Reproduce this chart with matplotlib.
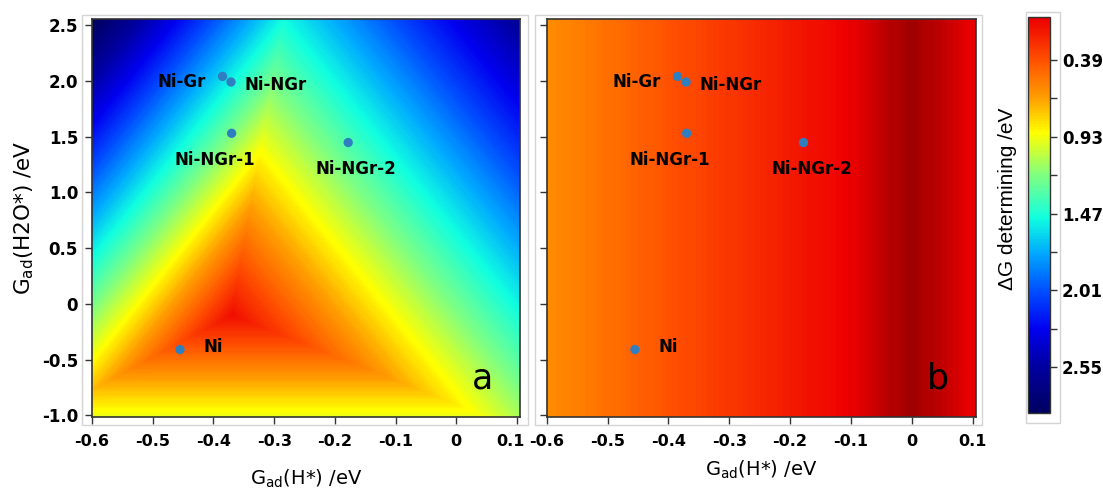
import numpy as np
import matplotlib
matplotlib.use('Agg')
import matplotlib.pyplot as plt
import matplotlib.tri as mtri
from matplotlib.colors import LinearSegmentedColormap, Normalize
from matplotlib.patches import Rectangle
from matplotlib.ticker import FixedLocator
from matplotlib.transforms import ScaledTranslation

plt.rcParams['font.family'] = 'DejaVu Sans'
plt.rcParams['mathtext.fontset'] = 'dejavusans'

# --- data ---
# panel a: dG determining at the corners of the piecewise-linear map
# (centre, top ridge end, top-left, top-right, left ridge end, bottom-left,
#  bottom ridge end, bottom-right)
node_x = [-0.37, -0.285, -0.60, 0.105, -0.60, -0.60, 0.051, 0.105]
node_y = [-0.10, 2.555, 2.555, 2.555, -0.766, -1.015, -1.015, -1.015]
node_dg = [0.15, 1.50, 2.89, 2.60, 0.73, 0.95, 0.95, 1.10]
node_tri = [[0, 4, 2], [0, 2, 1], [0, 1, 3], [0, 3, 7], [0, 7, 6],
            [0, 6, 5], [0, 5, 4]]

# panel b: dG depends on G(H*) only
b_x = [-0.60, 0.0, 0.105]
b_y = [-1.015, 2.555]
b_dg = [0.60, 0.0, 0.105]

# catalysts
names = ['Ni-Gr', 'Ni-NGr', 'Ni-NGr-1', 'Ni-NGr-2', 'Ni']
pt_x = [-0.385, -0.371, -0.370, -0.178, -0.455]
pt_y = [2.04, 1.99, 1.53, 1.447, -0.41]
label_pos = [(-0.452, 1.99), (-0.298, 1.96), (-0.397, 1.29),
             (-0.165, 1.21), (-0.40, -0.39)]

xticks = [-0.6, -0.5, -0.4, -0.3, -0.2, -0.1, 0, 0.1]
xtick_labels = ['-0.6', '-0.5', '-0.4', '-0.3', '-0.2', '-0.1', '0', '0.1']
yticks = [2.5, 2.0, 1.5, 1.0, 0.5, 0, -0.5, -1.0]
ytick_labels = ['2.5', '2.0', '1.5', '1.0', '0.5', '0', '-0.5', '-1.0']
cb_ticks = [0.39, 0.93, 1.47, 2.01, 2.55]
cb_minor = [0.66, 1.20, 1.74, 2.28]

# colour scale (value, colour)
cmap_vals = [0.0, 0.10, 0.39, 0.66, 0.90, 1.20, 1.50, 1.75, 2.01, 2.28, 2.55, 2.87]
cmap_cols = ['#a00000', '#ee0000', '#ff5000', '#ffa000', '#ffff00', '#80ff80',
             '#10ffe0', '#00a8ff', '#0050ff', '#0000f0', '#0000a0', '#000060']

vmax = cmap_vals[-1]
cmap = LinearSegmentedColormap.from_list(
    'dg', [(v / vmax, c) for v, c in zip(cmap_vals, cmap_cols)])
norm = Normalize(vmin=0, vmax=vmax)
levels = np.linspace(0, vmax, 300)

W, H = 1103, 493
fig = plt.figure(figsize=(W / 100, H / 100), dpi=100)
ax_a = fig.add_axes([92 / W, 1 - 417 / H, 428 / W, 398 / H])
ax_b = fig.add_axes([546.7 / W, 1 - 417 / H, 429 / W, 398 / H])
cax = fig.add_axes([1028 / W, 80 / H, 22 / W, 396 / H])

# light grey frames around each layer
for x0, y0, x1, y1 in [(82, 15, 528, 425), (535, 15, 982, 425), (1026, 12, 1060, 423)]:
    fig.patches.append(Rectangle((x0 / W, 1 - y1 / H), (x1 - x0) / W, (y1 - y0) / H,
                                 transform=fig.transFigure, fill=False,
                                 edgecolor='#d4d4d4', lw=1))

triang = mtri.Triangulation(node_x, node_y, node_tri)
ax_a.tricontourf(triang, node_dg, levels=levels, cmap=cmap, norm=norm, extend='both')

X, Y = np.meshgrid(b_x, b_y)
Z = np.tile(b_dg, (len(b_y), 1))
ax_b.contourf(X, Y, Z, levels=levels, cmap=cmap, norm=norm, extend='both')

for ax, letter in [(ax_a, 'a'), (ax_b, 'b')]:
    ax.scatter(pt_x, pt_y, s=45, color='#2f7ec0', edgecolors='none', zorder=3)
    for name, (lx, ly) in zip(names, label_pos):
        ax.text(lx, ly, name, ha='center', va='center', fontsize=12,
                fontweight='bold', zorder=4)
    ax.text(0.043, -0.67, letter, ha='center', va='center', fontsize=25)
    ax.set_xlim(-0.6, 0.105)
    ax.set_ylim(-1.015, 2.555)
    ax.set_xticks(xticks)
    ax.set_xticklabels(xtick_labels)
    ax.set_yticks(yticks)
    ax.tick_params(direction='out', length=5, width=1, labelsize=11.5,
                   color='#333333', pad=7)
    for lab in ax.get_xticklabels() + ax.get_yticklabels():
        lab.set_fontweight('bold')
    for sp in ax.spines.values():
        sp.set_color('#333333')
        sp.set_linewidth(1.2)

ax_a.set_yticklabels(ytick_labels)
ax_a.tick_params(axis='y', labelsize=12, pad=5)
for lab in ax_a.get_yticklabels():
    lab.set_fontweight('bold')
ax_b.set_yticklabels([])

# the last label of panel a sits a little left, clear of panel b's first one
last = ax_a.get_xticklabels()[-1]
last.set_transform(last.get_transform() + ScaledTranslation(-0.07, 0, fig.dpi_scale_trans))

ax_a.set_xlabel(r'G$_{\mathrm{ad}}$(H*) /eV', fontsize=14, labelpad=14)
ax_b.set_xlabel(r'G$_{\mathrm{ad}}$(H*) /eV', fontsize=14, labelpad=7)
ax_a.set_ylabel(r'G$_{\mathrm{ad}}$(H2O*) /eV', fontsize=15.5, labelpad=4)

sm = plt.cm.ScalarMappable(norm=norm, cmap=cmap)
cb = fig.colorbar(sm, cax=cax)
cb.set_ticks(cb_ticks)
cb.set_ticklabels(['%.2f' % t for t in cb_ticks])
cax.set_ylim(2.87, 0.09)
cax.yaxis.set_minor_locator(FixedLocator(cb_minor))
cax.tick_params(which='both', direction='out', length=5, width=1,
                labelsize=12, color='#333333')
for lab in cax.get_yticklabels():
    lab.set_fontweight('bold')
cb.outline.set_edgecolor('#333333')
cb.outline.set_linewidth(1.0)
cb.set_label('\u0394G determining /eV', fontsize=15, labelpad=8,
             family='Liberation Sans')
cax.yaxis.set_label_position('left')
cax.yaxis.set_ticks_position('right')
cax.yaxis.label.set_y(0.54)

fig.savefig('out.png', dpi=100)
